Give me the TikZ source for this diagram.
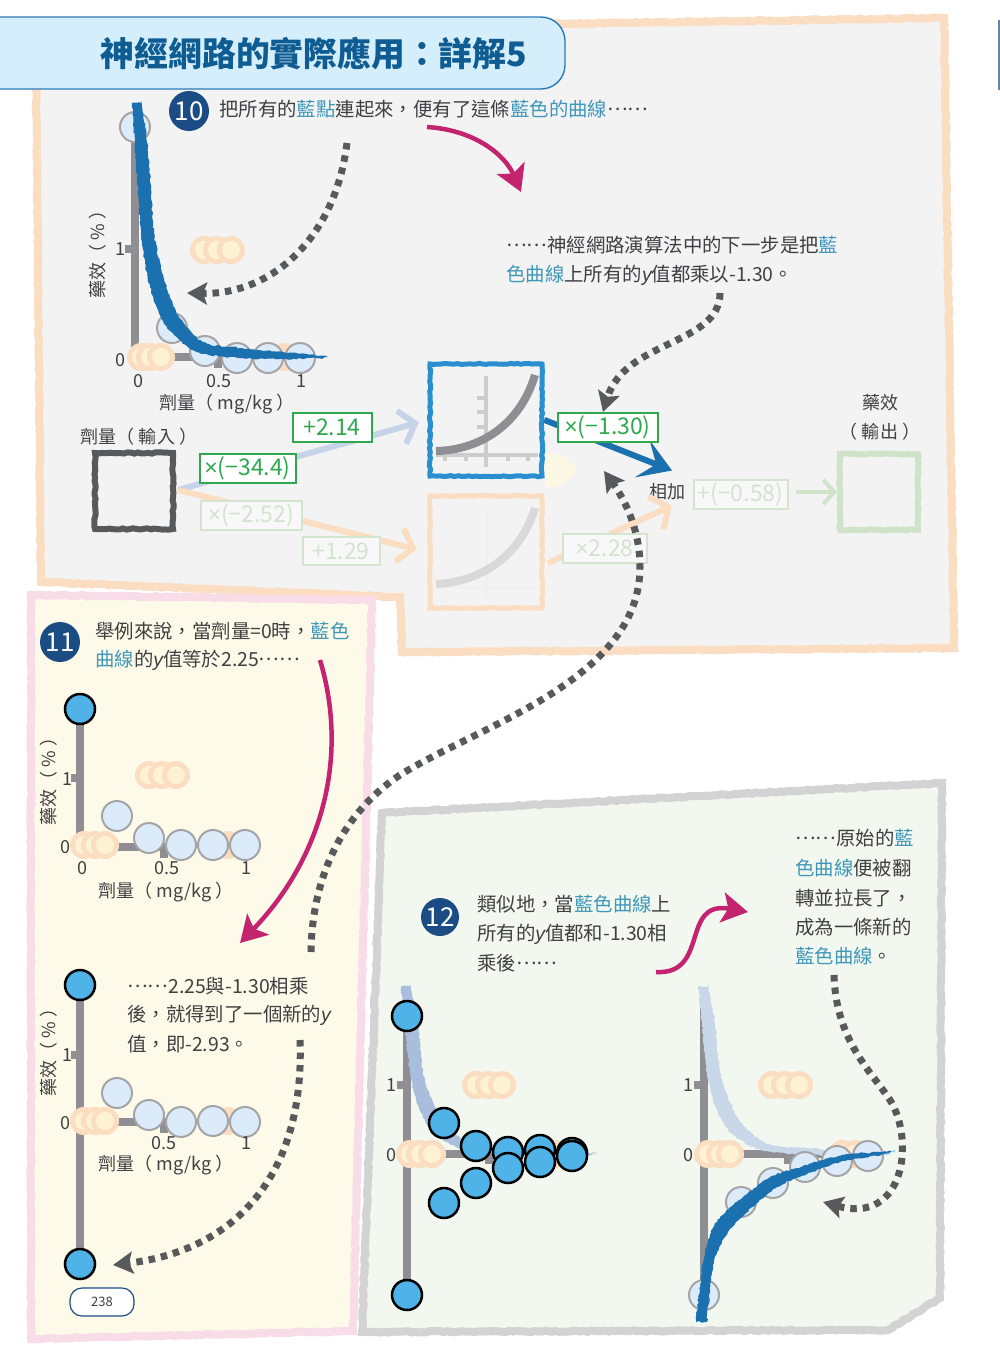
\documentclass[tikz,border=0pt]{standalone}
\usepackage{fontspec}
\setmainfont{Noto Sans CJK TC}
\newfontfamily\latinf{Liberation Sans}
\usetikzlibrary{arrows.meta,decorations.pathmorphing,calc}
\definecolor{ink}{HTML}{404042}
\definecolor{wordblue}{HTML}{3F98B9}
\definecolor{titleblue}{HTML}{0F5C93}
\definecolor{titlefill}{HTML}{D4EEFB}
\definecolor{titleedge}{HTML}{2A7AB5}
\definecolor{badge}{HTML}{1B4C84}
\definecolor{peach}{HTML}{FBDDC2}
\definecolor{paneA}{HTML}{F3F3F4}
\definecolor{rosy}{HTML}{F8DCE8}
\definecolor{paneB}{HTML}{FEFAE9}
\definecolor{ashy}{HTML}{D3D3D3}
\definecolor{paneC}{HTML}{F2F8EF}
\definecolor{axisgrey}{HTML}{8E8E93}
\definecolor{clusterin}{HTML}{FDF3D3}
\definecolor{palewedge}{HTML}{FDF8E4}
\definecolor{dotfill}{HTML}{DCEBF9}
\definecolor{dotring}{HTML}{A5A5A8}
\definecolor{brightdot}{HTML}{4FB3E8}
\definecolor{curveblue}{HTML}{1B70AF}
\definecolor{boxblue}{HTML}{2B8FCF}
\definecolor{magentaink}{HTML}{C4236F}
\definecolor{dashgrey}{HTML}{58595B}
\definecolor{weightgreen}{HTML}{2FA84F}
\definecolor{paleedge}{HTML}{D3E5CE}
\definecolor{paletext}{HTML}{D3E3D0}
\definecolor{palegreen}{HTML}{CFE3C8}
\definecolor{linkblue}{HTML}{C7D3E8}
\definecolor{ghostA}{HTML}{A9BEDC}
\definecolor{ghostB}{HTML}{C9D8E8}
\tikzset{
  x=1pt,y=-1pt,
  rough/.style={decorate,decoration={random steps,segment length=3.5pt,amplitude=.7pt}},
  roughfine/.style={decorate,decoration={random steps,segment length=2.4pt,amplitude=.8pt}},
  para/.style={anchor=west,inner sep=0pt,text=ink,font=\fontsize{19.4}{19.4}\selectfont},
  axlabel/.style={inner sep=0pt,text=ink,font=\fontsize{18}{18}\selectfont},
  ticknum/.style={inner sep=0pt,text=ink,font=\fontsize{18}{18}\selectfont},
  numbadge/.style={circle,fill=badge,text=white,minimum size=40pt,inner sep=0pt,font=\fontsize{26}{26}\selectfont},
  weight/.style={draw=weightgreen,line width=2pt,fill=white,text=weightgreen,inner sep=0pt,font=\fontsize{23}{23}\selectfont},
  weightpale/.style={draw=paleedge,line width=2pt,fill=paneA!60!white,text=paletext,inner sep=0pt,font=\fontsize{23}{23}\selectfont},
  netbox/.style={rough,draw,line width=#1,inner sep=0pt,minimum width=78pt,minimum height=76pt},
  hidbox/.style={rough,draw,line width=5pt,inner sep=0pt,minimum width=112pt,minimum height=112pt},
  axisbar/.style={draw=axisgrey,line width=8pt},
  sweep/.style={draw=magentaink,line width=4.5pt,-{Stealth[length=26pt,width=30pt,inset=6pt]}},
  dotted trail/.style={draw=dashgrey,line width=7pt,dash pattern=on 6.5pt off 6pt,
     -{Stealth[length=20pt,width=22pt,inset=4pt,color=dashgrey]}},
}
\newcommand\bl[1]{{\color{wordblue}#1}}
\newcommand\yv{{\latinf\itshape y}}
\newcommand\elide{\raisebox{.32em}{\addfontfeature{RawFeature=+fwid}……}}
\newcommand\timesmark{{\latinf ×}}
% three overlapping peach discs with pale centres
\newcommand\cluster[4]{%
  \foreach \cx in {#1,#2,#3}{\fill[peach] (\cx,#4) circle (14);\fill[clusterin] (\cx,#4) circle (9);}}
% pale point with a grey ring
\newcommand\ringdot[2]{\draw[draw=dotring,fill=dotfill,line width=2pt] (#1,#2) circle (15);}
% bright point with a black ring
\newcommand\brightpt[2]{\draw[draw=black,fill=brightdot,line width=2.5pt] (#1,#2) circle (15);}
% falling curve, relative to the chart origin
\newcommand\decaycurve[3]{%
  \begin{scope}[shift={#1},yscale=#2]
  \fill[#3,roughfine] plot[smooth] coordinates {(7,-254)(14,-197)(19,-124)(29,-78)(43,-42)(68,-15)(106,-9)(148,-5)(192,-1)}
     -- plot[smooth] coordinates {(192,1)(148,2)(104,1)(60,-6)(30,-32)(15,-70)(6,-122)(1,-197)(-3,-254)} -- cycle;
  \end{scope}}
\begin{document}
\begin{tikzpicture}
\pgfmathsetseed{238}
\useasboundingbox (0,0) rectangle (1000,1353);
\fill[white] (0,0) rectangle (1000,1353);

% page panels
\draw[rough,draw=peach,fill=paneA,line width=8pt] (36,60) -- (545,24) -- (944,18) -- (954,648) -- (402,652) -- (400,597) -- (41,582) -- cycle;
\draw[rough,draw=rosy,fill=paneB,line width=8pt] (31,595) -- (372,600) -- (353,1331) -- (31,1339) -- cycle;
\draw[rough,draw=ashy,fill=paneC,line width=8pt] (382,813) -- (942,783) -- (940,1298) -- (888,1330) -- (362,1332) -- cycle;

% title tab
\begin{scope}
\clip (0,0) rectangle (1000,100);
\draw[draw=titleedge,fill=titlefill,line width=1.4pt,rounded corners=24pt] (-40,17) rectangle (565,89);
\end{scope}
\node[inner sep=0pt,text=titleblue,font=\fontsize{33.8}{33.8}\selectfont\bfseries] (title) at (314,54) {神經網路的實際應用：詳解5};
\draw[draw=titleedge!40!axisgrey,line width=1.5pt] (999,20) -- (999,90);

% chart: sum of the first hidden node
\draw[axisbar] (135,125) -- (135,361) (131,357) -- (218,357) (218,353) -- (218,368) (125,249) -- (135,249);
\cluster{204}{217}{231}{250}
\cluster{141}{150}{161}{357}
\fill[peach] (285,357) circle (14);
\ringdot{135}{127}\ringdot{172}{328}\ringdot{205}{351}\ringdot{237}{358}\ringdot{268}{358}\ringdot{300}{358}
\decaycurve{(135,357)}{1}{curveblue}
\node[ticknum] (aone) at (120,249) {1};
\node[ticknum] (azero) at (120,360) {0};
\node[ticknum] (ax0) at (138,381) {0};
\node[ticknum] (ax5) at (219,381) {0.5};
\node[ticknum] (ax1) at (301,381) {1};
\node[axlabel,rotate=90] (aylab) at (98,250) {藥效（ \% ）};
\node[axlabel] (axlab) at (227,404) {劑量（ mg/kg ）};

% step 10 text
\node[numbadge] (b10) at (189,111) {10};
\node[para] (s10) at (219,109) {把所有的\bl{藍點}連起來，便有了這條\bl{藍色的曲線}\elide};
\node[para] (s10a) at (506,245) {\elide 神經網路演算法中的下一步是把\bl{藍}};
\node[para] (s10b) at (506,275) {\bl{色曲線}上所有的\yv{}值都乘以-1.30。};

% network layers
\fill[palewedge] (545,452) -- (565,456) -- (578,470) -- (562,486) -- (545,487) -- cycle;
\node[netbox=6pt,draw=dashgrey] (inbox) at (134,491) {};
\node[axlabel] (inlab) at (139,437) {劑量（ 輸入 ）};
\node[hidbox,draw=boxblue] (hidtop) at (486,420) {};
\node[hidbox,draw=peach] (hidlow) at (486,552) {};
\node[netbox=6pt,draw=palegreen] (outbox) at (879,492) {};
\node[axlabel] (outa) at (880,403) {藥效};
\node[axlabel] (outb) at (880,432) {（ 輸出 ）};

% small activation plots inside the hidden nodes
\draw[draw=black!20,line width=3.5pt] (486,376) -- (486,467) (436,455) -- (538,455)
   (477,398) -- (486,398) (477,412) -- (486,412) (477,427) -- (486,427)
   (445,455) -- (445,461) (466,455) -- (466,461) (508,455) -- (508,461) (528,455) -- (528,461);
\draw[draw=axisgrey,line width=8pt] (436,451) .. controls (480,450) and (520,425) .. (535,375);
\draw[draw=black!6,line width=3pt] (486,510) -- (486,598) (436,587) -- (538,587);
\draw[draw=black!15,line width=8pt] (436,584) .. controls (480,582) and (520,557) .. (535,508);
\node[axlabel] (adder) at (667,492) {相加};

% connectors between the nodes
\coordinate (splitpt) at (178,490);
\coordinate (lowstart) at (548,563);
\draw[draw=linkblue,line width=6pt,shorten >=9pt,-{Straight Barb[length=14pt,width=34pt,line width=6pt]}] (splitpt) -- (hidtop.west);
\draw[draw=peach,line width=6pt,shorten >=11pt,-{Straight Barb[length=14pt,width=34pt,line width=6pt]}] (splitpt) -- (hidlow.west);
\draw[draw=peach,line width=6pt,-{Straight Barb[length=14pt,width=36pt,line width=6pt]}] (lowstart) -- ($(adder.south)+(5,5)$);
\draw[draw=curveblue,line width=6pt,-{Stealth[length=32pt,width=40pt,inset=15pt]}] (hidtop.east) -- ($(adder.north)+(5,-13)$);
\draw[draw=palegreen,line width=4pt,-{Straight Barb[length=11pt,width=24pt,line width=4pt]}] (796,492) -- (outbox.west);

% weights on the links
\node[weight,minimum width=79pt,minimum height=29pt] (wa) at (332,427) {+2.14};
\node[weight,minimum width=96pt,minimum height=29pt] (wb) at (247.500,468) {\timesmark(−34.4)};
\node[weightpale,minimum width=101pt,minimum height=29pt] (wc) at (251,515) {\timesmark(−2.52)};
\node[weightpale,minimum width=77pt,minimum height=28pt] (wd) at (341,551) {+1.29};
\node[weight,minimum width=100pt,minimum height=29pt] (we) at (607.500,427) {\timesmark(−1.30)};
\node[weightpale,minimum width=84pt,minimum height=29pt] (wf) at (604.500,548) {\timesmark 2.28};
\node[weightpale,minimum width=94pt,minimum height=29pt] (wg) at (740.500,494) {+(−0.58)};

% step 11 charts and text
\draw[axisbar] (80,712) -- (80,851) (76,847) -- (165,847) (164,843) -- (164,858) (71,778) -- (80,778);
\cluster{149}{162}{176}{775}
\cluster{84}{95}{105}{845}
\fill[peach] (228,845) circle (14);
\ringdot{117}{816}\ringdot{149}{838}\ringdot{181}{845}\ringdot{213}{845}\ringdot{245}{845}
\brightpt{80}{709}
\node[ticknum] (bone) at (67,779) {1};
\node[ticknum] (bzero) at (65,847) {0};
\node[ticknum] (bx0) at (82,868) {0};
\node[ticknum] (bx5) at (167,868) {0.5};
\node[ticknum] (bx1) at (246,868) {1};
\node[axlabel,rotate=90] (bylab) at (49,777) {藥效（ \% ）};
\node[axlabel] (bxlab) at (166,892) {劑量（ mg/kg ）};
\node[numbadge] (b11) at (60,642) {11};
\node[para] (s11a) at (95,631) {舉例來說，當劑量=0時，\bl{藍色}};
\node[para] (s11b) at (95,660) {\bl{曲線}的\yv{}值等於2.25\elide};

\draw[axisbar] (80,985) -- (80,1264) (76,1122) -- (165,1122) (164,1118) -- (164,1133) (71,1055) -- (80,1055);
\cluster{84}{95}{105}{1121}
\fill[peach] (228,1121) circle (14);
\ringdot{117}{1093}\ringdot{149}{1115}\ringdot{181}{1122}\ringdot{213}{1121}\ringdot{245}{1122}
\brightpt{80}{985}
\brightpt{80}{1264}
\node[ticknum] (cone) at (67,1055) {1};
\node[ticknum] (czero) at (65,1123) {0};
\node[ticknum] (cx5) at (164,1143) {0.5};
\node[ticknum] (cx1) at (246,1143) {1};
\node[axlabel,rotate=90] (cylab) at (49,1048) {藥效（ \% ）};
\node[axlabel] (cxlab) at (166,1165) {劑量（ mg/kg ）};
\node[para] (s11c) at (127,986) {\elide 2.25與-1.30相乘};
\node[para] (s11d) at (127,1015) {後，就得到了一個新的\yv};
\node[para] (s11e) at (127,1044) {值，即-2.93。};
\draw[draw=badge,fill=white,line width=1.2pt,rounded corners=12pt] (70,1288) rectangle (134,1316);
\node[inner sep=0pt,text=ink,font=\fontsize{13}{13}\selectfont] (pagenum) at (102,1302) {238};

% step 12 charts and text
\draw[axisbar] (407,1015) -- (407,1295) (403,1154) -- (490,1154) (489,1150) -- (489,1164) (397,1085) -- (407,1085);
\decaycurve{(404,1154)}{.66}{ghostA}
\cluster{476}{489}{502}{1085}
\cluster{410}{420}{432}{1154}
\fill[peach] (555,1154) circle (14);
\brightpt{407}{1016}\brightpt{407}{1295}
\brightpt{444}{1123}\brightpt{476}{1146}\brightpt{508}{1152}\brightpt{540}{1150}\brightpt{572}{1153}
\brightpt{444}{1203}\brightpt{476}{1183}\brightpt{508}{1168}\brightpt{540}{1162}\brightpt{572}{1156}
\node[ticknum] (done) at (391,1085) {1};
\node[ticknum] (dzero) at (391,1155) {0};

\draw[axisbar] (704,1005) -- (704,1295) (700,1154) -- (850,1154) (788,1150) -- (788,1164) (694,1085) -- (704,1085);
\decaycurve{(701,1154)}{.66}{ghostB}
\cluster{772}{785}{799}{1085}
\cluster{708}{720}{730}{1154}
\cluster{842}{855}{866}{1154}
\ringdot{704}{1295}\ringdot{741}{1202}\ringdot{773}{1183}\ringdot{805}{1167}\ringdot{837}{1161}\ringdot{868}{1156}
\begin{scope}[shift={(704,1154)}]
\fill[curveblue,roughfine] plot[smooth] coordinates {(-8,168)(-1,109)(9,74)(28,52)(65,24)(99,12)(140,1)(190,-3)}
   -- plot[smooth] coordinates {(190,-1)(141,7)(103,20)(73,33)(39,62)(21,83)(9,111)(3,168)} -- cycle;
\end{scope}
\node[ticknum] (eone) at (688,1085) {1};
\node[ticknum] (ezero) at (688,1155) {0};
\node[numbadge,minimum size=38pt] (b12) at (440,917) {12};
\node[para] (s12a) at (477,904) {類似地，當\bl{藍色曲線}上};
\node[para] (s12b) at (477,934) {所有的\yv{}值都和-1.30相};
\node[para] (s12c) at (477,963) {乘後\elide};
\node[para] (s12d) at (795,838) {\elide 原始的\bl{藍}};
\node[para] (s12e) at (795,868) {\bl{色曲線}便被翻};
\node[para] (s12f) at (795,898) {轉並拉長了，};
\node[para] (s12g) at (795,927) {成為一條新的};
\node[para] (s12h) at (795,956) {\bl{藍色曲線}。};

% dotted trails between the notes
\coordinate (ta) at (347,143);
\coordinate (tb) at (187,293);
\draw[dotted trail] (ta) .. controls (335,240) and (270,295) .. (tb);
\coordinate (tc) at (720,293);
\coordinate (td) at (603,412);
\draw[dotted trail] (tc) .. controls (720,345) and (625,340) .. (td);
\coordinate (te) at (311,952);
\coordinate (tf) at (400,775);
\coordinate (tg) at (640,567);
\coordinate (th) at (604,471);
\draw[dotted trail] (te) .. controls (312,880) and (340,815) .. (tf) .. controls (480,725) and (640,680) .. (tg) .. controls (640,530) and (625,500) .. (th);
\coordinate (ti) at (300,1040);
\coordinate (tj) at (113,1265);
\draw[dotted trail] (ti) .. controls (305,1170) and (240,1250) .. (tj);
\coordinate (tk) at (834,975);
\coordinate (tl) at (890,1100);
\coordinate (tm) at (823,1202);
\draw[dotted trail] (tk) .. controls (836,1040) and (870,1070) .. (tl) .. controls (915,1140) and (905,1225) .. (tm);

% magenta sweeps
\coordinate (ma) at (427,127);
\coordinate (mb) at (521,192);
\draw[sweep] (ma) .. controls (475,130) and (505,155) .. (mb);
\coordinate (mc) at (320,660);
\coordinate (md) at (240,943);
\draw[sweep] (mc) .. controls (350,760) and (320,860) .. (md);
\coordinate (me) at (656,972);
\coordinate (mf) at (748,912);
\draw[sweep] (me) .. controls (710,975) and (680,900) .. (mf);
\end{tikzpicture}
\end{document}
